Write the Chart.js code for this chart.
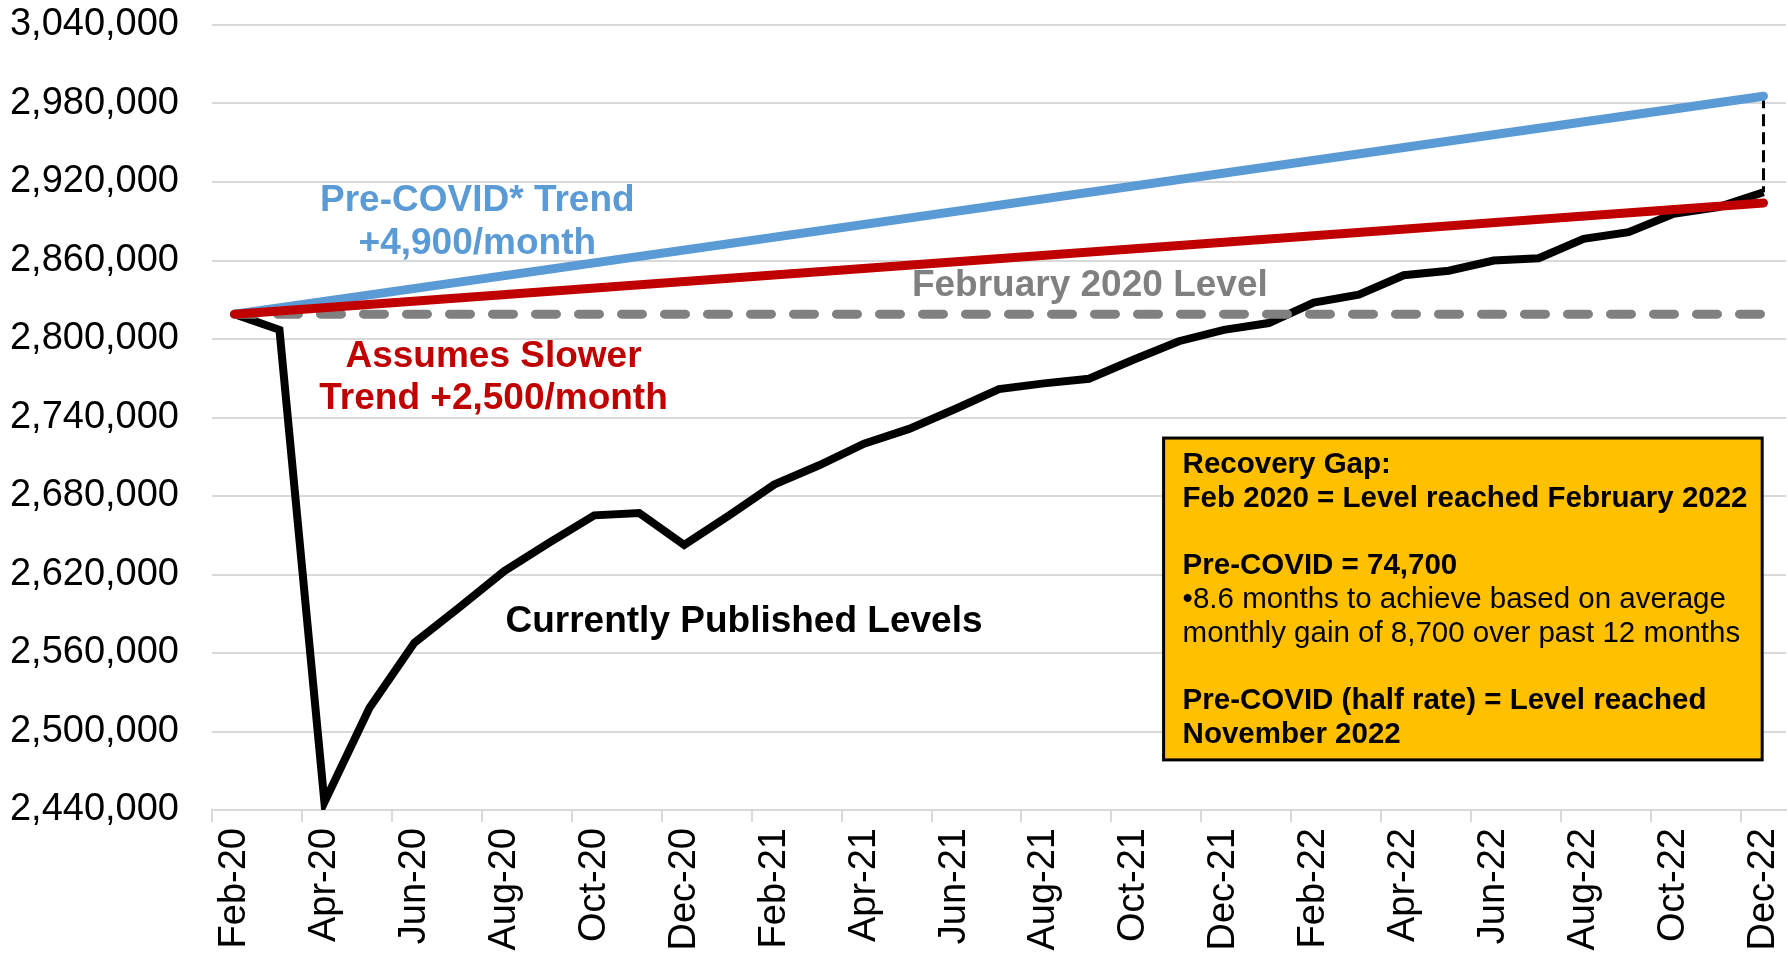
<!DOCTYPE html>
<html>
<head>
<meta charset="utf-8">
<script src="https://cdn.jsdelivr.net/npm/chart.js@4.4.1/dist/chart.umd.min.js"></script>
<style>
  html, body { margin: 0; padding: 0; background: #fff; }
  #wrap { width: 1788px; height: 963px; }
</style>
</head>
<body>
<div id="wrap"><canvas id="chart" width="1788" height="963"></canvas></div>
<script>
const months = [
  'Feb-20', 'Mar-20', 'Apr-20', 'May-20', 'Jun-20', 'Jul-20', 'Aug-20', 'Sep-20', 'Oct-20', 'Nov-20', 'Dec-20',
  'Jan-21', 'Feb-21', 'Mar-21', 'Apr-21', 'May-21', 'Jun-21', 'Jul-21', 'Aug-21', 'Sep-21', 'Oct-21', 'Nov-21', 'Dec-21',
  'Jan-22', 'Feb-22', 'Mar-22', 'Apr-22', 'May-22', 'Jun-22', 'Jul-22', 'Aug-22', 'Sep-22', 'Oct-22', 'Nov-22', 'Dec-22'
];

// currently published levels
const published = [
  2819000, 2807000, 2446000, 2518000, 2567800, 2594800, 2622600, 2644300, 2665200, 2667000, 2642600,
  2665200, 2688700, 2703500, 2720000, 2731300, 2746100, 2761700, 2766100, 2769600, 2784300, 2798300, 2807000,
  2812200, 2827800, 2833900, 2848700, 2852200, 2860000, 2861700, 2876500, 2881700, 2895700, 2900900, 2912200
];

// straight lines: start (Feb-20) and end (Dec-22)
const trendEnds = ['Feb-20', 'Dec-22'];
const preCovidTrend = [2819000, 2985600];
const slowerTrend = [2819000, 2904000];
const feb2020Level = [2819000, 2819000];
const gapLine = [2985600, 2912200];

const yMin = 2440000, yMax = 3040000, yStep = 60000;

const FONT = "'Liberation Sans', Arial, sans-serif";

function ends(vals, xs) {
  return vals.map((v, i) => ({ x: xs[i], y: v }));
}

const notes = [
  { lines: ['Pre-COVID* Trend', '+4,900/month'], color: '#5B9BD5', at: [5.4, 2906000], gap: 43 },
  { lines: ['Assumes Slower', 'Trend +2,500/month'], color: '#C00000', at: [5.76, 2786700], gap: 42 },
  { lines: ['February 2020 Level'], color: '#808080', at: [19.02, 2840900], gap: 0 },
  { lines: ['Currently Published Levels'], color: '#000000', at: [11.33, 2583800], gap: 0 }
];

const boxLines = [
  ['Recovery Gap:', true],
  ['Feb 2020 = Level reached February 2022', true],
  ['', false],
  ['Pre-COVID = 74,700', true],
  ['\u20228.6 months to achieve based on average', false],
  ['monthly gain of 8,700 over past 12 months', false],
  ['', false],
  ['Pre-COVID (half rate) = Level reached', true],
  ['November 2022', true]
];
const boxArea = { left: 20.66, right: 33.97, top: 2724300, bottom: 2478300 };

const notesPlugin = {
  id: 'notes',
  afterDatasetsDraw(chart) {
    const c = chart.ctx;
    const xs = chart.scales.x, ys = chart.scales.y;
    c.save();
    c.textAlign = 'center';
    c.textBaseline = 'middle';
    c.font = 'bold 37px ' + FONT;
    notes.forEach(n => {
      const px = xs.getPixelForValue(n.at[0]);
      const py = ys.getPixelForValue(n.at[1]);
      c.fillStyle = n.color;
      n.lines.forEach((t, i) => c.fillText(t, px, py + i * n.gap));
    });

    // recovery gap box
    const l = xs.getPixelForValue(boxArea.left), r = xs.getPixelForValue(boxArea.right);
    const t = ys.getPixelForValue(boxArea.top), b = ys.getPixelForValue(boxArea.bottom);
    c.fillStyle = '#FFC000';
    c.fillRect(l, t, r - l, b - t);
    c.strokeStyle = '#000';
    c.lineWidth = 3;
    c.strokeRect(l, t, r - l, b - t);
    c.textAlign = 'left';
    c.fillStyle = '#000';
    boxLines.forEach(([txt, bold], i) => {
      if (!txt) return;
      c.font = (bold ? 'bold ' : '') + '29.5px ' + FONT;
      c.fillText(txt, l + 19, t + 27 + i * 33.7);
    });
    c.restore();
  }
};

new Chart(document.getElementById('chart'), {
  type: 'line',
  data: {
    labels: months,
    datasets: [
      {
        label: 'Assumes Slower Trend',
        data: ends(slowerTrend, trendEnds),
        borderColor: '#C00000',
        borderWidth: 9,
        borderCapStyle: 'round',
        pointRadius: 0
      },
      {
        label: 'Pre-COVID* Trend',
        data: ends(preCovidTrend, trendEnds),
        borderColor: '#5B9BD5',
        borderWidth: 9,
        borderCapStyle: 'round',
        pointRadius: 0
      },
      {
        label: 'February 2020 Level',
        data: ends(feb2020Level, trendEnds),
        borderColor: '#808080',
        borderWidth: 9,
        borderDash: [21, 22],
        borderCapStyle: 'round',
        pointRadius: 0
      },
      {
        label: 'Gap',
        data: ends(gapLine, ['Dec-22', 'Dec-22']),
        borderColor: '#000',
        borderWidth: 3,
        borderDash: [12, 6],
        pointRadius: 0
      },
      {
        label: 'Currently Published Levels',
        data: published,
        borderColor: '#000',
        borderWidth: 8,
        borderJoinStyle: 'miter',
        pointRadius: 0
      }
    ]
  },
  options: {
    responsive: false,
    animation: false,
    devicePixelRatio: 1,
    layout: { padding: { top: 0, right: 2, left: 0, bottom: 0 } },
    plugins: {
      legend: { display: false },
      tooltip: { enabled: false }
    },
    scales: {
      x: {
        type: 'category',
        offset: true,
        grid: {
          offset: true,
          drawOnChartArea: false,
          drawTicks: true,
          tickLength: 12,
          lineWidth: 2,
          color: ctx => (ctx.index !== undefined && ctx.index % 2 === 0) ? '#D9D9D9' : 'rgba(0,0,0,0)'
        },
        border: { display: true, color: '#D9D9D9', width: 2 },
        ticks: {
          autoSkip: false,
          minRotation: 90,
          maxRotation: 90,
          padding: 6,
          color: '#000',
          font: { family: FONT, size: 38 },
          callback: (v, i) => (i % 2 === 0 ? months[i] : '')
        },
        afterFit: s => { s.height = 153; s.paddingLeft = 0; s.paddingRight = 0; }
      },
      y: {
        min: yMin,
        max: yMax,
        grid: { color: '#D9D9D9', lineWidth: 2, drawTicks: false },
        border: { display: false },
        ticks: {
          stepSize: yStep,
          padding: 33,
          color: '#000',
          font: { family: FONT, size: 38 },
          callback: v => v.toLocaleString('en-US')
        },
        afterFit: s => { s.width = 212; s.paddingTop = 25; s.paddingBottom = 0; }
      }
    }
  },
  plugins: [notesPlugin]
});
</script>
</body>
</html>
